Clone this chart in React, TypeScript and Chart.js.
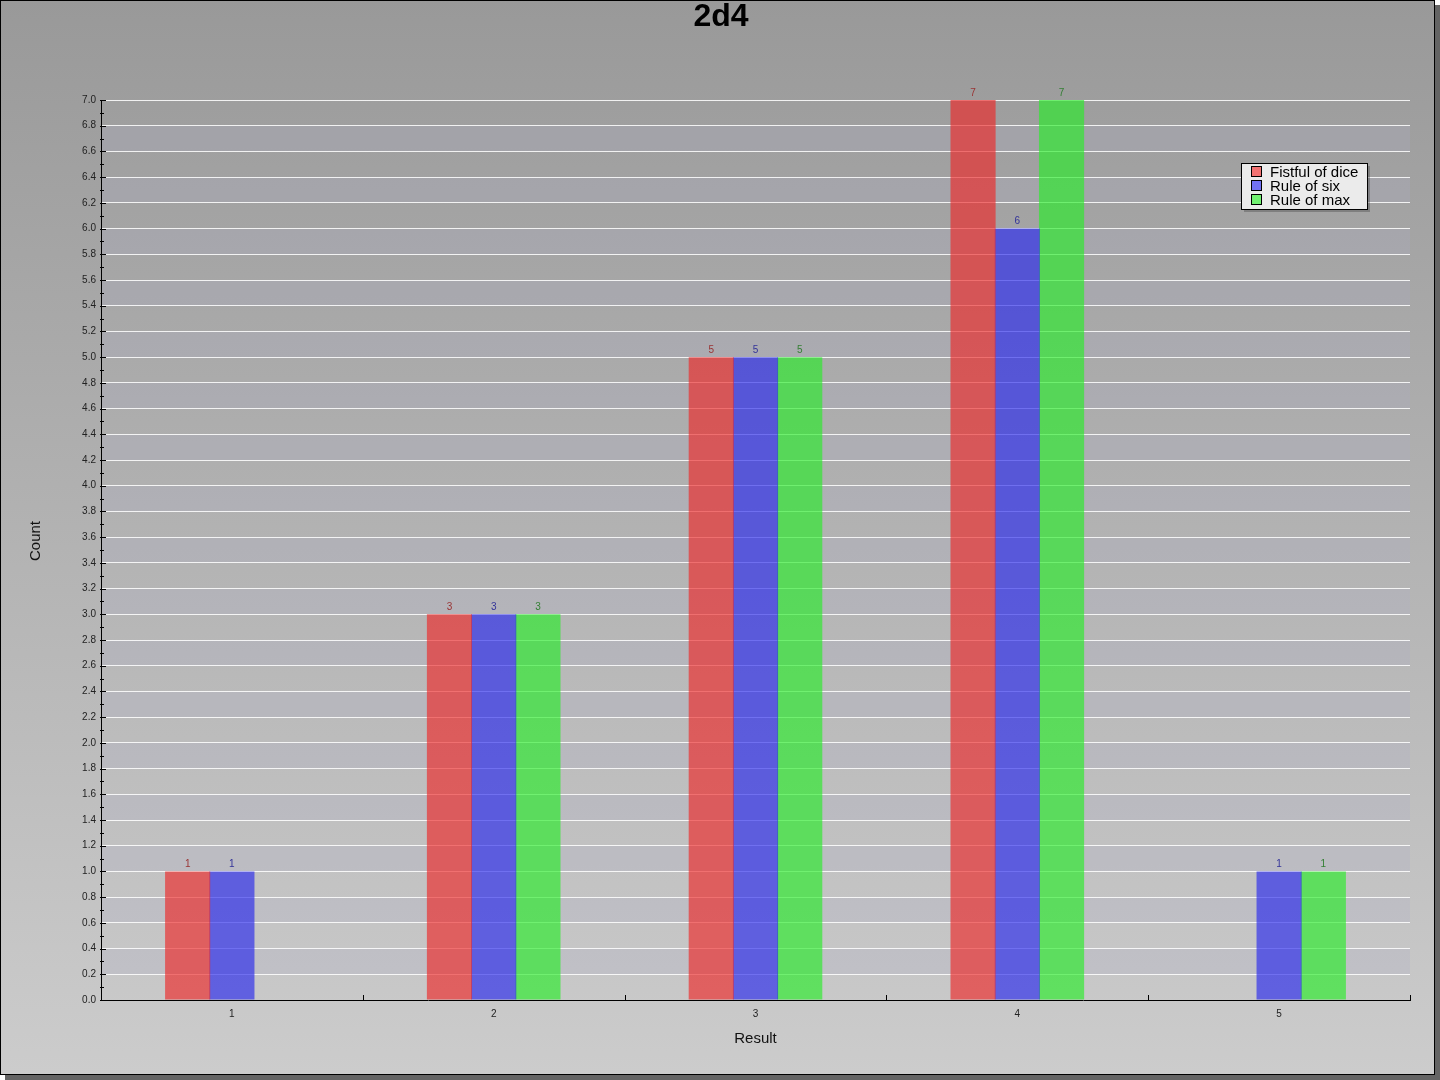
import React, { useEffect, useRef } from 'react';
import { Chart, registerables } from 'chart.js';

Chart.register(...registerables);

const chartTitle = '2d4';
const xAxisTitle = 'Result';
const yAxisTitle = 'Count';
const categories = ['1', '2', '3', '4', '5'];
const seriesNames = ['Fistful of dice', 'Rule of six', 'Rule of max'];
const fistfulOfDice = [1, 3, 5, 7, null];
const ruleOfSix = [1, 3, 5, 6, 1];
const ruleOfMax = [null, 3, 5, 7, 1];
const yMin = 0;
const yMax = 7;
const yStep = 0.2;

const barColors = ['rgba(236,40,40,0.65)', 'rgba(40,40,236,0.65)', 'rgba(40,236,40,0.65)'];
const labelColors = ['#993333', '#333399', '#337f33'];
const swatchColors = ['#f27272', '#7272f2', '#72f272'];

const FONT = "'Liberation Sans', Arial, Helvetica, sans-serif";
const W = 1440;
const H = 1080;

const framePlugin = {
  id: 'frame',
  beforeDraw(chart: any) {
    const ctx = chart.ctx;
    ctx.save();
    ctx.fillStyle = '#ffffff';
    ctx.fillRect(0, 0, W, H);
    ctx.fillStyle = '#646464';
    ctx.fillRect(5, 5, W - 5, H - 5);
    const g = ctx.createLinearGradient(0, 0, 0, H - 6);
    g.addColorStop(0, '#999999');
    g.addColorStop(1, '#cccccc');
    ctx.fillStyle = g;
    ctx.fillRect(0, 0, W - 5, H - 5);
    ctx.strokeStyle = '#000';
    ctx.lineWidth = 1;
    ctx.strokeRect(0.5, 0.5, W - 6, H - 6);

    // alternating bands
    const y = chart.scales.y;
    const { left, right } = chart.chartArea;
    const ticks = y.ticks;
    ctx.fillStyle = 'rgba(172,172,198,0.26)';
    for (let i = 1; i < ticks.length - 1; i += 2) {
      const top = y.getPixelForValue(ticks[i + 1].value);
      const bot = y.getPixelForValue(ticks[i].value);
      ctx.fillRect(left, top, right - left, bot - top);
    }

    // titles
    ctx.fillStyle = '#000';
    ctx.font = `bold 32px ${FONT}`;
    ctx.textAlign = 'center';
    ctx.textBaseline = 'middle';
    ctx.fillText(chartTitle, (W - 6) / 2 + 4, 17);

    ctx.fillStyle = '#111';
    ctx.font = `15px ${FONT}`;
    ctx.translate(36, 541);
    ctx.rotate(-Math.PI / 2);
    ctx.fillText(yAxisTitle, 0, 0);
    ctx.restore();
  },
};

const valueLabelPlugin = {
  id: 'valueLabels',
  afterDatasetsDraw(chart: any) {
    const ctx = chart.ctx;
    ctx.save();
    ctx.font = `10px ${FONT}`;
    ctx.textAlign = 'center';
    ctx.textBaseline = 'bottom';
    chart.data.datasets.forEach((ds: any, di: number) => {
      const meta = chart.getDatasetMeta(di);
      ctx.fillStyle = labelColors[di];
      meta.data.forEach((el: any, i: number) => {
        const v = ds.data[i];
        if (v === null || v === undefined) return;
        ctx.fillText(String(v), el.x, el.y - 2);
      });
    });
    ctx.restore();
  },
};

const ticksLegendPlugin = {
  id: 'ticksLegend',
  afterDraw(chart: any) {
    const ctx = chart.ctx;
    const { left, right, top, bottom } = chart.chartArea;
    const y = chart.scales.y;
    const x = chart.scales.x;
    ctx.save();
    ctx.strokeStyle = '#000';
    ctx.lineWidth = 1;
    ctx.beginPath();
    const ticks = y.ticks;
    for (let i = 0; i < ticks.length; i++) {
      const py = Math.round(y.getPixelForValue(ticks[i].value)) + 0.5;
      ctx.moveTo(left - 1, py);
      ctx.lineTo(left + 5, py);
      if (i < ticks.length - 1) {
        const mv = (ticks[i].value + ticks[i + 1].value) / 2;
        const pm = Math.round(y.getPixelForValue(mv)) + 0.5;
        ctx.moveTo(left - 1, pm);
        ctx.lineTo(left + 3, pm);
      }
    }
    for (let i = 0; i < categories.length; i++) {
      const px = Math.round(x.getPixelForValue(i + 0.5)) + 0.5;
      ctx.moveTo(px, bottom);
      ctx.lineTo(px, bottom - 5);
    }
    ctx.stroke();

    // legend
    const bx = right - 169;
    const by = top + 63;
    const bw = 126;
    const bh = 46;
    ctx.fillStyle = 'rgba(60,60,60,0.35)';
    ctx.fillRect(bx + 3, by + 3, bw, bh);
    ctx.fillStyle = '#ebebeb';
    ctx.fillRect(bx, by, bw, bh);
    ctx.strokeStyle = '#000';
    ctx.strokeRect(bx + 0.5, by + 0.5, bw, bh);
    ctx.font = `15px ${FONT}`;
    ctx.textAlign = 'left';
    ctx.textBaseline = 'middle';
    chart.data.datasets.forEach((ds: any, di: number) => {
      const ry = by + 3 + di * 14;
      ctx.fillStyle = swatchColors[di];
      ctx.fillRect(bx + 10.5, ry + 0.5, 10, 10);
      ctx.strokeStyle = '#000';
      ctx.strokeRect(bx + 10.5, ry + 0.5, 10, 10);
      ctx.fillStyle = '#000';
      ctx.fillText(ds.label, bx + 29, ry + 7);
    });
    ctx.restore();
  },
};

export default function App() {
  const canvasRef = useRef<HTMLCanvasElement | null>(null);

  useEffect(() => {
    if (!canvasRef.current) return;
    Chart.defaults.font.family = FONT;
    const seriesData = [fistfulOfDice, ruleOfSix, ruleOfMax];
    const chart = new Chart(canvasRef.current, {
      type: 'bar',
      data: {
        labels: categories,
        datasets: seriesNames.map((name, i) => ({
          label: name,
          data: seriesData[i],
          backgroundColor: barColors[i],
          borderWidth: 0,
          categoryPercentage: 0.507,
          barPercentage: 1.02,
        })),
      },
      options: {
        animation: false,
        responsive: false,
        devicePixelRatio: 1,
        layout: { padding: { left: 0, right: 30, top: 100, bottom: 0 } },
        plugins: {
          legend: { display: false },
          tooltip: { enabled: false },
          title: { display: false },
        },
        scales: {
          x: {
            grid: { display: false, drawTicks: false },
            border: { display: true, color: '#000', width: 1 },
            ticks: { color: '#222', font: { size: 10, family: FONT }, padding: 8 },
            title: {
              display: true,
              text: xAxisTitle,
              color: '#111',
              font: { size: 15, family: FONT },
              padding: { top: 0, bottom: 32 },
            },
            afterFit: (s: any) => {
              s.height = 80;
            },
          },
          y: {
            min: yMin,
            max: yMax,
            grid: { color: 'rgba(255,255,255,0.85)', lineWidth: 1, drawTicks: false },
            border: { display: true, color: '#000', width: 1 },
            ticks: {
              stepSize: yStep,
              autoSkip: false,
              color: '#222',
              font: { size: 10, family: FONT },
              padding: 5,
              callback: (v: any) => Number(v).toFixed(1),
            },
            title: { display: false },
            afterFit: (s: any) => {
              s.width = 101;
            },
          },
        },
      },
      plugins: [framePlugin, valueLabelPlugin, ticksLegendPlugin],
    } as any);
    return () => chart.destroy();
  }, []);

  return (
    <div style={{ position: 'fixed', left: 0, top: 0, width: W, height: H }}>
      <canvas ref={canvasRef} width={W} height={H} style={{ display: 'block' }} />
    </div>
  );
}
